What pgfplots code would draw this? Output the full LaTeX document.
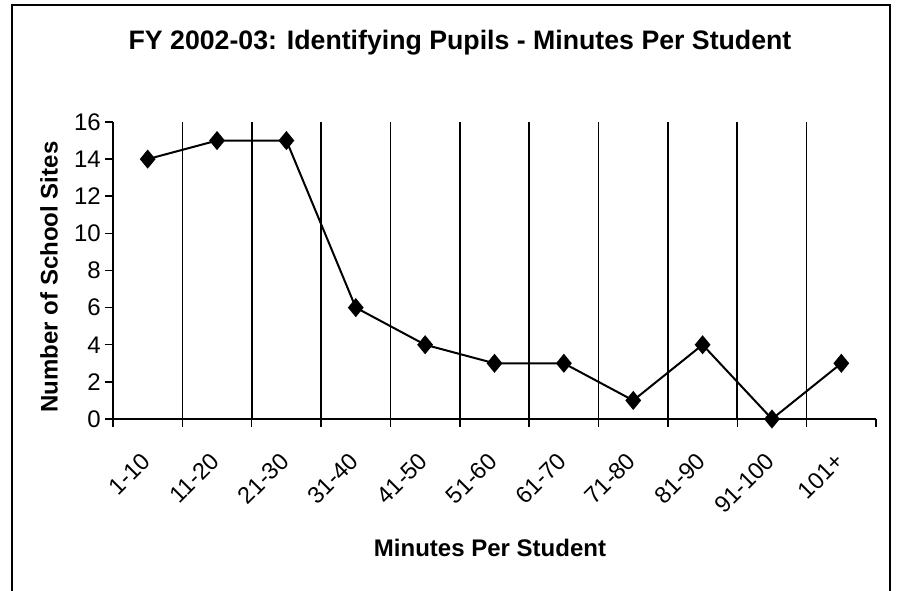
\documentclass[border=0pt]{standalone}
\usepackage{pgfplots}
\pgfplotsset{compat=1.18}
\usepackage{fontspec}
\setmainfont{Liberation Sans}
\begin{document}
\begin{tikzpicture}[x=1bp,y=1bp]
\begin{axis}[
  at={(0,0)}, anchor=south west,
  scale only axis, width=763bp, height=297bp,
  xmin=0, xmax=11, ymin=0, ymax=16,
  clip=false,
  axis x line*=bottom, axis y line*=left,
  axis line style={line width=1.5bp, black},
  xtick={0,1,...,10},
  xticklabels={1-10,11-20,21-30,31-40,41-50,51-60,61-70,71-80,81-90,91-100,101+},
  extra x ticks={11}, extra x tick labels={},
  extra x tick style={xmajorgrids=false},
  xmajorgrids=true,
  major grid style={black, line width=1.6bp},
  ytick={0,2,...,16},
  tick align=outside,
  major tick length=8bp,
  tick style={black, line width=1.5bp},
  /pgf/number format/assume math mode=true,
  xticklabel style={font=\fontsize{23.5bp}{28bp}\selectfont, xshift=33bp, yshift=-30bp, rotate=45, anchor=east, inner sep=0pt},
  yticklabel style={font=\fontsize{24bp}{28bp}\selectfont, anchor=east, inner sep=0pt, xshift=-4bp},
]
\addplot[black, line width=2bp, mark=diamond*, mark size=8bp, mark options={solid, xscale=1.1}]
  coordinates {(0.5,14)(1.5,15)(2.5,15)(3.5,6)(4.5,4)(5.5,3)(6.5,3)(7.5,1)(8.5,4)(9.5,0)(10.5,3)};
\end{axis}
\node[anchor=base, font=\fontsize{26.7bp}{32bp}\selectfont\bfseries] at (347,369) {FY 2002-03: Identifying Pupils - Minutes Per Student};
\node[anchor=base, font=\fontsize{24bp}{29bp}\selectfont\bfseries] at (377,-138) {Minutes Per Student};
\node[anchor=center, rotate=90, inner sep=0pt, font=\fontsize{24bp}{29bp}\selectfont\bfseries] at (-64,142) {Number of School Sites};
\draw[line width=1.8bp] (-101,-180) -- (-101,414) -- (777,414) -- (777,-180);
\pgfresetboundingbox
\useasboundingbox (-113,-172) rectangle (789,419);
\end{tikzpicture}
\end{document}
